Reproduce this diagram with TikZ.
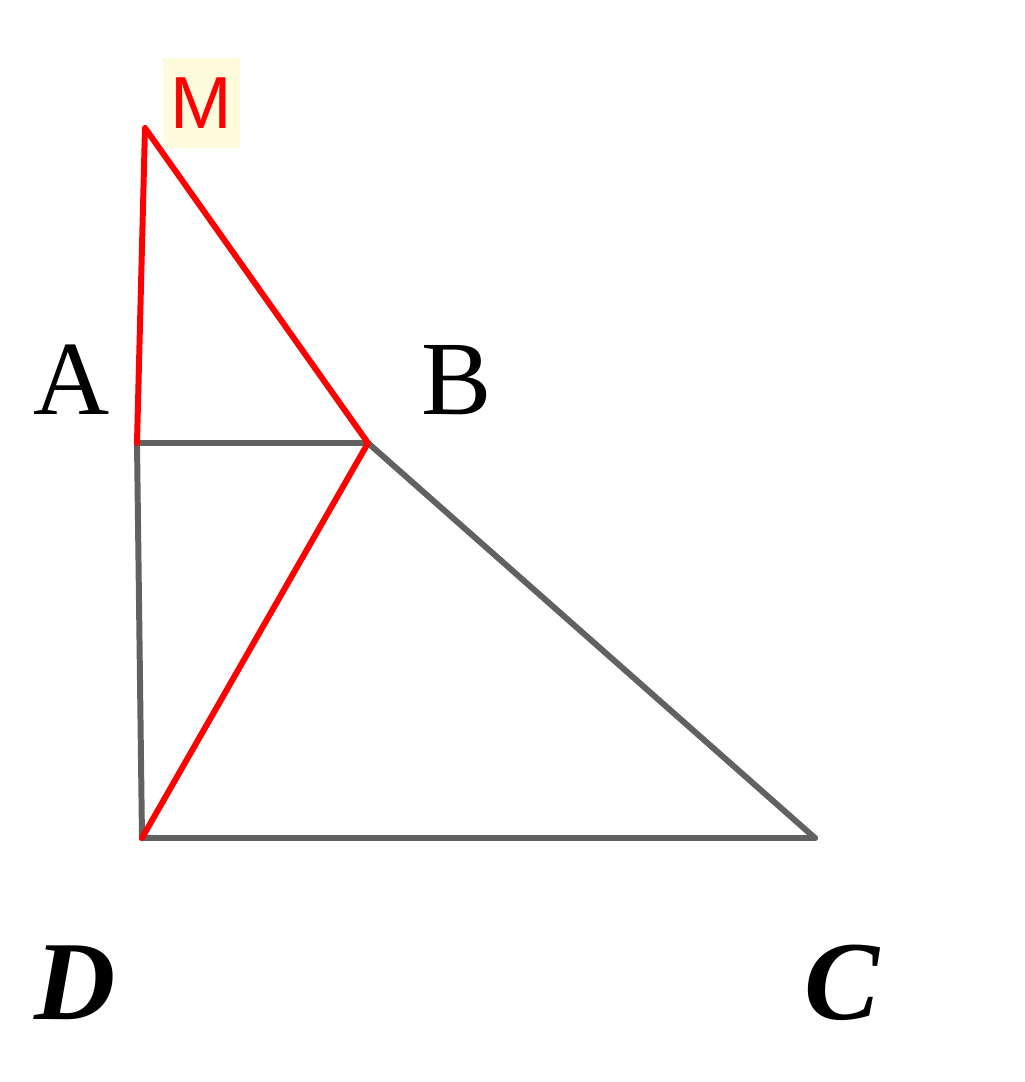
\documentclass[tikz,border=0pt]{standalone}
\usepackage{fontspec}
\setmainfont{Liberation Serif}
\setsansfont{Liberation Sans}
\definecolor{notebg}{RGB}{255,252,222}
\begin{document}
\begin{tikzpicture}
        \tikzset{side/.style = {draw=black!62,line width=1.7pt,line cap=round}};
        \tikzset{redside/.style = {draw=red,line width=1.7pt,line cap=round,line join=round}};
        \tikzset{vlabel/.style = {inner sep=0pt,font=\fontsize{30}{36}\selectfont}};
        \useasboundingbox (0,0) rectangle (10.24,10.82);
        \coordinate (M) at (1.45,9.54);
        \coordinate (A) at (1.37,6.39);
        \coordinate (B) at (3.68,6.39);
        \coordinate (D) at (1.42,2.44);
        \coordinate (C) at (8.15,2.44);
        \node[vlabel] (la) at (0.72,7.02) {A};
        \node[vlabel] (lb) at (4.57,7.02) {B};
        \node[vlabel,font=\fontsize{32}{38}\selectfont\bfseries\itshape] (ld) at (0.75,0.99) {D};
        \node[vlabel,font=\fontsize{32}{38}\selectfont\bfseries\itshape] (lc) at (8.42,0.99) {C};
        \node[fill=notebg,text=red,inner sep=0pt,minimum width=0.77cm,minimum height=0.9cm,font=\sffamily\fontsize{21}{25}\selectfont] (lm) at (2.01,9.79) {M};
        \draw[side] (A) -- (B);
        \draw[side] (A) -- (D);
        \draw[side] (D) -- (C);
        \draw[side] (B) -- (C);
        \draw[redside] (A) -- (M) -- (B) -- (D);
\end{tikzpicture}
\end{document}
